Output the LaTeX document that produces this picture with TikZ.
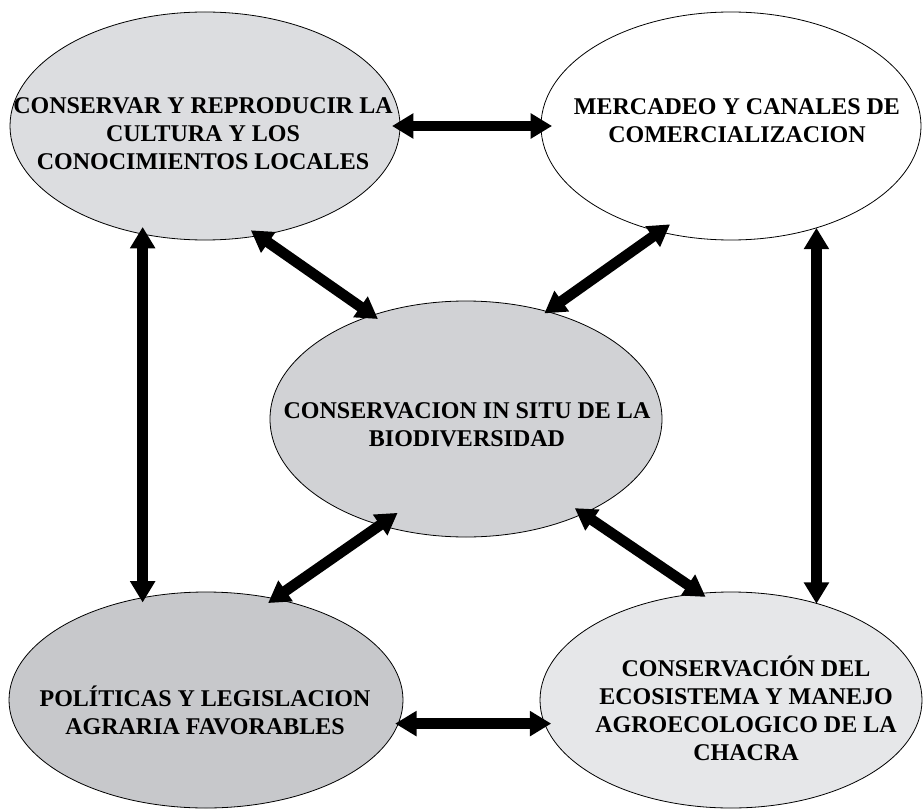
\documentclass[tikz,border=0pt]{standalone}
\usepackage{fontspec}
\setmainfont{Liberation Serif}
\usetikzlibrary{arrows.meta,shapes.geometric}
\definecolor{ovalA}{RGB}{220,221,224}
\definecolor{ovalC}{RGB}{209,210,213}
\definecolor{ovalD}{RGB}{199,200,203}
\definecolor{ovalE}{RGB}{230,231,233}
\begin{document}
\begin{tikzpicture}[x=0.75pt,y=-0.75pt,
  oval/.style={ellipse,draw=black,line width=0.6pt,inner sep=0pt,outer sep=0pt},
  lbl/.style={font=\bfseries\fontsize{18}{21}\selectfont,align=center,inner sep=0pt},
  link/.style={line width=8pt,{Triangle[length=16pt,width=18pt]}-{Triangle[length=16pt,width=18pt]}},
  ext/.style 2 args={shorten <=-#1,shorten >=-#2}]
\useasboundingbox[fill=white] (0,0) rectangle (923,809);

% the five themes
\node[oval,fill=ovalA,minimum width=292.5pt,minimum height=171pt] (tl) at (205,126) {};
\node[oval,fill=white,minimum width=285pt,minimum height=171pt] (tr) at (731,126) {};
\node[oval,fill=ovalC,minimum width=294pt,minimum height=177pt] (c) at (466,419) {};
\node[oval,fill=ovalD,minimum width=295.5pt,minimum height=162pt] (bl) at (206,700) {};
\node[oval,fill=ovalE,minimum width=286.5pt,minimum height=162pt] (br) at (731,700) {};

% two-way links between the themes
\draw[link,ext={6pt}{8.3pt}] (tl.0) -- (tr.180);
\draw[link,ext={2.3pt}{6pt}] (bl.353.5) -- (bl.353.5 -| br.186.7);
\draw[link,ext={5.3pt}{3.8pt}] (tl.240.1) -- (tl.240.1 |- bl.121.6);
\draw[link,ext={0pt}{0pt}] (tr.310.2) -- (tr.310.2 |- br.48.3);
\draw[link,ext={7pt}{4.9pt}] (tl.296.6) -- (c.132);
\draw[link,ext={9.5pt}{2.4pt}] (tr.236.8) -- (c.53.6);
\draw[link,ext={16pt}{5.7pt}] (c.231.1) -- (bl.56);
\draw[link,ext={7.4pt}{4.7pt}] (c.321.1) -- (br.106.3);

% theme titles
\node[lbl] (tltxt) at (203,134) {CONSERVAR Y REPRODUCIR LA\\CULTURA Y LOS\\CONOCIMIENTOS LOCALES};
\node[lbl] (trtxt) at (737,121) {MERCADEO Y CANALES DE\\COMERCIALIZACION};
\node[lbl] (ctxt) at (467,425) {CONSERVACION IN SITU DE LA\\BIODIVERSIDAD};
\node[lbl] (bltxt) at (205,710) {POLÍTICAS Y LEGISLACION\\AGRARIA FAVORABLES};
\node[lbl] (brtxt) at (746,708) {CONSERVACIÓN DEL\\ECOSISTEMA Y MANEJO\\AGROECOLOGICO DE LA\\CHACRA};
\end{tikzpicture}
\end{document}
